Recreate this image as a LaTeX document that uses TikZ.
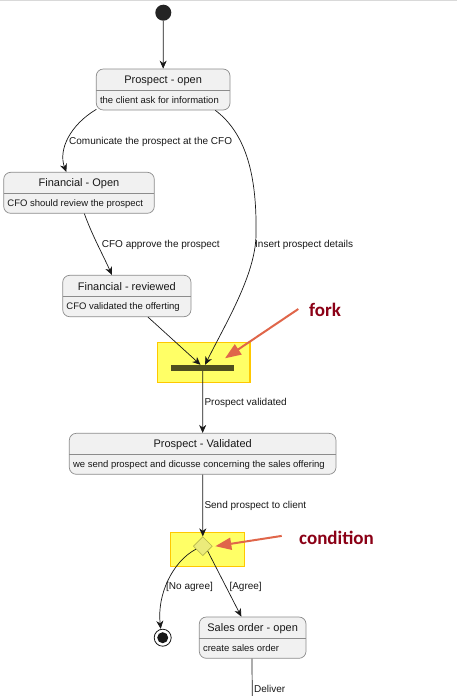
\documentclass[tikz,border=0pt]{standalone}
\usepackage{fontspec}
\setmainfont{Liberation Sans}
\newfontfamily\annofont{Carlito}
\usetikzlibrary{arrows.meta,shapes.geometric,calc}
\definecolor{boxfill}{HTML}{F1F1F1}
\definecolor{boxline}{HTML}{8C8C8C}
\definecolor{hlfill}{HTML}{FFFF66}
\definecolor{hlline}{HTML}{FFC800}
\definecolor{annoarrow}{HTML}{E0664A}
\definecolor{annotext}{HTML}{8B0016}
\definecolor{ink}{HTML}{181818}
\definecolor{forkbar}{HTML}{4F4F1F}
\definecolor{diafill}{HTML}{EBEB7A}
\definecolor{dialine}{HTML}{B5B54A}
\newcommand\mystate[7]{%
  \node[stbox, minimum width={#4-#2}, minimum height={#5-#3}] (#1) at ({(#2+#4)/2},{(#3+#5)/2}) {};
  \draw[boxline, line width=0.7pt] (#2,{#3+21}) -- (#4,{#3+21});
  \node[ttl] (#1-t) at ({(#2+#4)/2},{#3+11.5}) {#6};
  \node[dsc] (#1-d) at ({#2+3.5},{#3+31.5}) {#7};
}
\begin{document}
\begin{tikzpicture}[x=1pt,y=-1pt,
  stbox/.style={draw=boxline, fill=boxfill, rounded corners=7pt, line width=0.7pt, inner sep=0},
  ttl/.style={font=\fontsize{11}{13}\selectfont, text=ink, inner sep=0},
  dsc/.style={font=\fontsize{9.5}{11}\selectfont, text=ink, inner sep=0, anchor=west, text height=7pt, text depth=2pt},
  lbl/.style={font=\fontsize{10}{12}\selectfont, text=ink, inner sep=0, anchor=west, text height=7pt, text depth=2pt},
  conn/.style={draw=ink, line width=0.7pt, -{Stealth[length=8pt,width=7pt,inset=2.5pt]}},
  plain/.style={draw=ink, line width=0.7pt},
  hl/.style={draw=hlline, fill=hlfill, line width=1.2pt, inner sep=0},
  annotxt/.style={font=\annofont\bfseries\fontsize{19}{22}\selectfont, text=annotext, inner sep=0, anchor=west},
  annoarr/.style={draw=annoarrow, line width=2pt, -{Triangle[length=16pt,width=12pt]}}
]
\fill[white] (0,0) rectangle (457,696);
\useasboundingbox (0,0) rectangle (457,696);
\draw[black!15, line width=1pt] (0,0.5) -- (457,0.5);

% states
\mystate{po}{96.3}{69}{230}{110}{Prospect - open}{the client ask for information}
\mystate{fo}{3.7}{172.3}{154.3}{213.3}{Financial - Open}{CFO should review the prospect}
\mystate{fr}{62.7}{275.3}{191}{316.7}{Financial - reviewed}{CFO validated the offerting}
\mystate{pv}{69.3}{433.3}{336}{474.3}{Prospect - Validated}{we send prospect and dicusse concerning the sales offering}
\mystate{so}{199.3}{617}{306}{658.3}{Sales order - open}{create sales order}

% start / end
\node[circle, fill=ink!95, minimum size=16pt, inner sep=0] (start) at (163.3,12.7) {};
\node[circle, draw=ink, fill=white, line width=0.8pt, minimum size=17pt, inner sep=0] (endst) at (162.7,637.7) {};
\node[circle, fill=ink, minimum size=11pt, inner sep=0] (endin) at (endst.center) {};

% highlights
\node[hl, minimum width=92.7pt, minimum height=40pt] (forkhl) at (203.6,362.3) {};
\node[hl, minimum width=74pt, minimum height=34.4pt] (condhl) at (207.3,549.5) {};

% fork bar and decision
\node[fill=forkbar, minimum width=63pt, minimum height=6pt, inner sep=0] (fork) at (202.8,368) {};
\node[diamond, draw=dialine, fill=diafill, line width=0.6pt, minimum width=19pt, minimum height=19pt, inner sep=0] (cond) at (202.8,546.2) {};

% connectors
\draw[conn] (start) -- (po.north);
\draw[conn] ([xshift=0.4pt,yshift=1pt]po.south west) .. controls (70,125) and (58,150) .. ([xshift=63pt]fo.north west);
\node[lbl] (l1) at (69,141.7) {Comunicate the prospect at the CFO};

\draw[conn] ([xshift=-15pt]po.south east) .. controls (248,135) and (257,180) .. (256,235)
   .. controls (255.5,275) and (224.7,325) .. ([xshift=2.3pt]fork.north);
\node[lbl] (l2) at (255,245) {Insert prospect details};

\draw[conn] ([xshift=81pt]fo.south west) .. controls (92,235) and (103,255) .. ([xshift=49.6pt]fr.north west);
\node[lbl] (l3) at (101.7,245) {CFO approve the prospect};

\draw[conn] ([xshift=85.6pt]fr.south west) -- ([xshift=-2.3pt]fork.north);

\draw[conn] (fork.south) -- (pv.north);
\node[lbl] (l4) at (204.3,402.7) {Prospect validated};

\draw[conn] (pv.south) -- (cond.north);
\node[lbl] (l5) at (204.3,506) {Send prospect to client};

\draw[conn] ($(cond.west)!0.3!(cond.south)$) .. controls (172,562) and (157,595) .. ([xshift=-2pt]endst.north);
\node[lbl] (l6) at (166,587.3) {[No agree]};

\draw[conn] (cond.south east) -- ([xshift=42.4pt]so.north west);
\node[lbl] (l7) at (229.3,587.3) {[Agree]};

\coordinate (bot) at (252.3,697);
\draw[plain] ([xshift=53pt]so.south west) -- (bot);
\node[lbl] (l8) at (254,690) {Deliver};

% annotations
\node[annotxt] (forklbl) at (309,310) {fork};
\coordinate (forktip) at (225,358.3);
\draw[annoarr] ([xshift=-10.7pt,yshift=1pt]forklbl.west) -- (forktip);

\node[annotxt] (condlbl) at (299,538.3) {condition};
\draw[annoarr] ([xshift=-17.3pt,yshift=2.4pt]condlbl.west) -- ([xshift=2.7pt]cond.east);
\end{tikzpicture}
\end{document}
